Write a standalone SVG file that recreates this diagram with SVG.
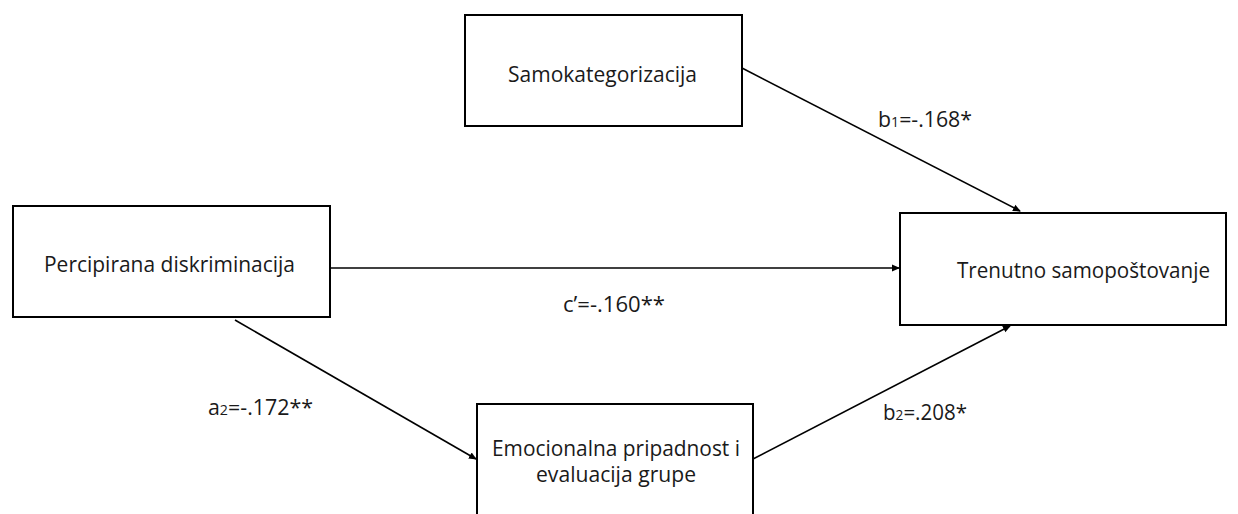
<svg xmlns="http://www.w3.org/2000/svg" width="1238" height="514" viewBox="0 0 1238 514">
<defs>
<style>
.box{fill:#fff;stroke:#000;stroke-width:2}
.lbl{font-family:"Open Sans","Liberation Sans",sans-serif;font-size:21px;fill:#1a1a1a}
.edge{stroke:#000;stroke-width:1.6;fill:none;marker-end:url(#ah)}
.sub{font-size:14px}
</style>
<marker id="ah" markerWidth="8" markerHeight="8" refX="7" refY="4" orient="auto" markerUnits="userSpaceOnUse">
<path d="M0,0.5 L8,4 L0,7.5 Z" fill="#000"/>
</marker>
</defs>
<rect width="1238" height="514" fill="#fff"/>
<g id="connectors">
<line class="edge" x1="742" y1="68" x2="1020" y2="211"/>
<line class="edge" x1="331" y1="268" x2="899" y2="268"/>
<line class="edge" x1="235" y1="320" x2="476" y2="459"/>
<line class="edge" x1="753" y1="459" x2="1010" y2="326"/>
<text class="lbl" x="878" y="127" textLength="94" lengthAdjust="spacingAndGlyphs">b<tspan class="sub">1</tspan>=-.168*</text>
<text class="lbl" x="563" y="312" textLength="102" lengthAdjust="spacingAndGlyphs">c’=-.160**</text>
<text class="lbl" x="208" y="415" textLength="105" lengthAdjust="spacingAndGlyphs">a<tspan class="sub">2</tspan>=-.172**</text>
<text class="lbl" x="883" y="420" textLength="84" lengthAdjust="spacingAndGlyphs">b<tspan class="sub">2</tspan>=.208*</text>
</g>
<g id="node-samokategorizacija">
<rect class="box" x="465" y="15" width="277" height="111"/>
<text class="lbl" x="508" y="82" textLength="189" lengthAdjust="spacingAndGlyphs">Samokategorizacija</text>
</g>
<g id="node-percipirana">
<rect class="box" x="13" y="206" width="317" height="111"/>
<text class="lbl" x="44" y="272" textLength="251" lengthAdjust="spacingAndGlyphs">Percipirana diskriminacija</text>
</g>
<g id="node-trenutno">
<rect class="box" x="900" y="213" width="326" height="112"/>
<text class="lbl" x="957" y="278" textLength="253" lengthAdjust="spacingAndGlyphs">Trenutno samopoštovanje</text>
</g>
<g id="node-emocionalna">
<rect class="box" x="477" y="404" width="276" height="120"/>
<text class="lbl" x="492" y="456" textLength="248" lengthAdjust="spacingAndGlyphs">Emocionalna pripadnost i</text>
<text class="lbl" x="536" y="482" textLength="160" lengthAdjust="spacingAndGlyphs">evaluacija grupe</text>
</g>
</svg>
